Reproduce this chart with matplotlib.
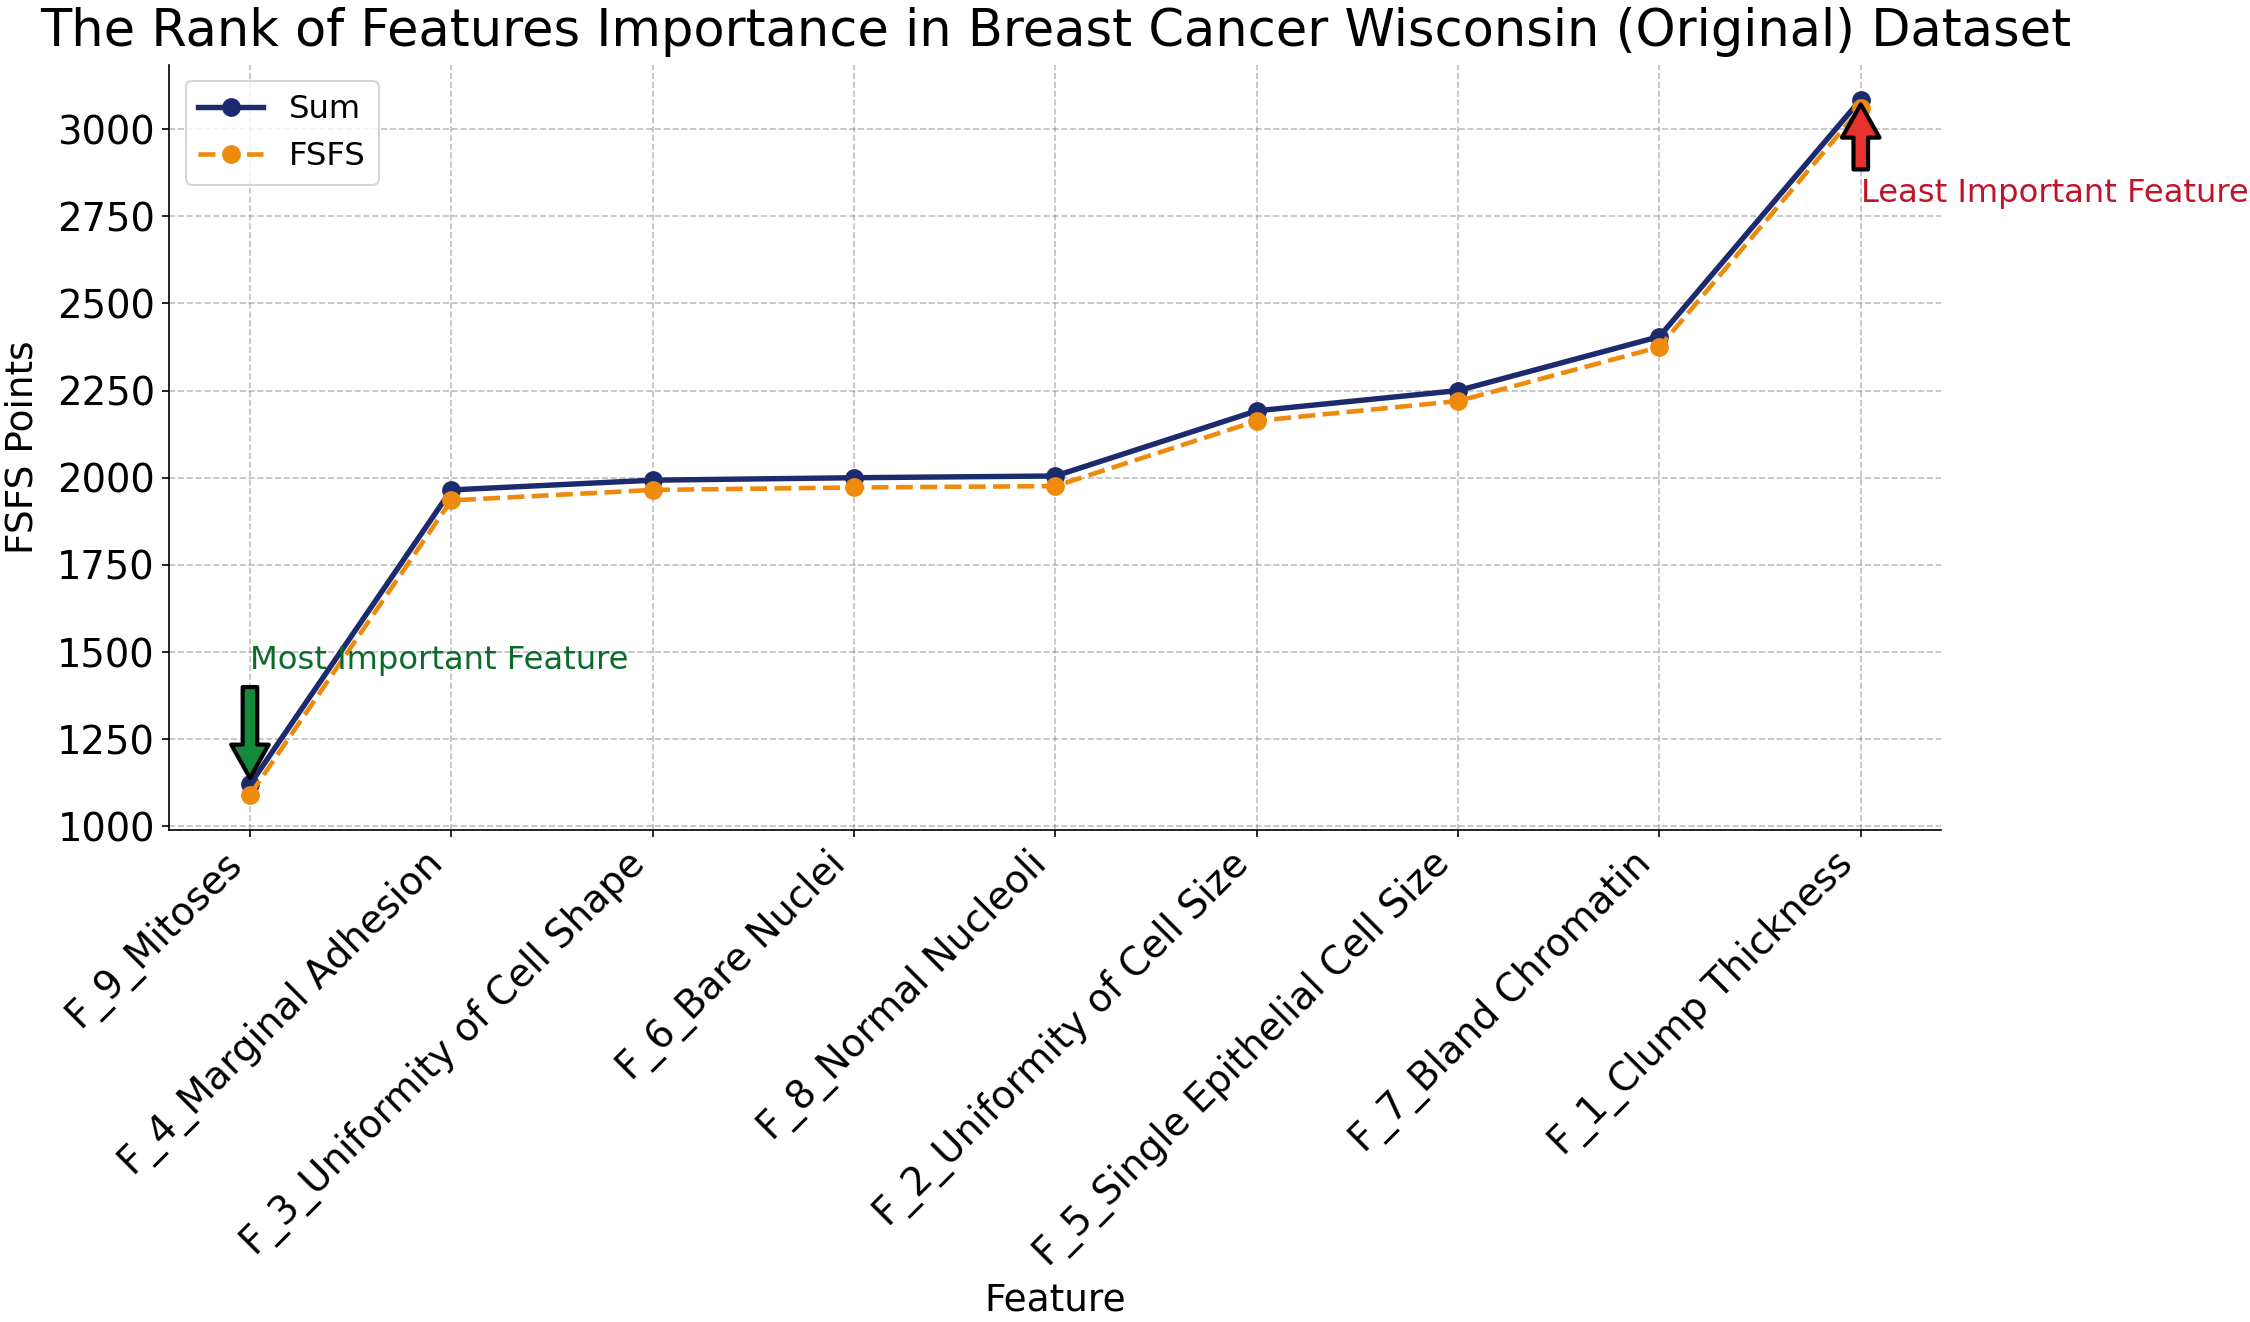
import numpy as np
import matplotlib.pyplot as plt

features = ['F_9_Mitoses', 'F_4_Marginal Adhesion', 'F_3_Uniformity of Cell Shape',
            'F_6_Bare Nuclei', 'F_8_Normal Nucleoli', 'F_2_Uniformity of Cell Size',
            'F_5_Single Epithelial Cell Size', 'F_7_Bland Chromatin', 'F_1_Clump Thickness']
sum_points = [1120, 1965, 1993, 2000, 2005, 2192, 2250, 2405, 3085]
fsfs_points = [1090, 1935, 1965, 1972, 1976, 2163, 2220, 2375, 3060]

fig = plt.figure(figsize=(15, 1322 / 150), dpi=150)
ax = fig.add_axes([0.0753, 0.3724, 0.7875, 0.5786])

x = np.arange(len(features))
ax.plot(x, sum_points, '-o', color='#1c2a6e', lw=2.6, ms=8, label='Sum')
ax.plot(x, fsfs_points, '--o', color='#ee8a0c', lw=2.2, ms=8, label='FSFS')

ax.set_xticks(x)
ax.set_xticklabels(features, rotation=45, ha='right')
ax.tick_params(axis='both', labelsize=18.5)
ax.grid(True, linestyle='--', color='gray', alpha=0.5)
ax.spines['top'].set_visible(False)
ax.spines['right'].set_visible(False)

ax.set_title('The Rank of Features Importance in Breast Cancer Wisconsin (Original) Dataset',
             fontsize=24.5, pad=9)
ax.set_xlabel('Feature', fontsize=18)
ax.set_ylabel('FSFS Points', fontsize=18, labelpad=8)
ax.legend(loc='upper left', fontsize=15.5)

ax.annotate('Most Important Feature', xy=(0, sum_points[0]), xytext=(0, 1430),
            color='#0b6b2b', fontsize=15.5, ha='left', va='bottom',
            arrowprops=dict(facecolor='#138a3c', edgecolor='black', lw=2,
                            width=7, headwidth=18, headlength=16, shrink=0.06))
ax.annotate('Least Important Feature', xy=(8, sum_points[-1]), xytext=(8, 2770),
            color='#c0142a', fontsize=15.5, ha='left', va='bottom',
            arrowprops=dict(facecolor='#e8312f', edgecolor='black', lw=2,
                            width=7, headwidth=18, headlength=16, shrink=0.06))

fig.savefig('out.png', dpi=150)
